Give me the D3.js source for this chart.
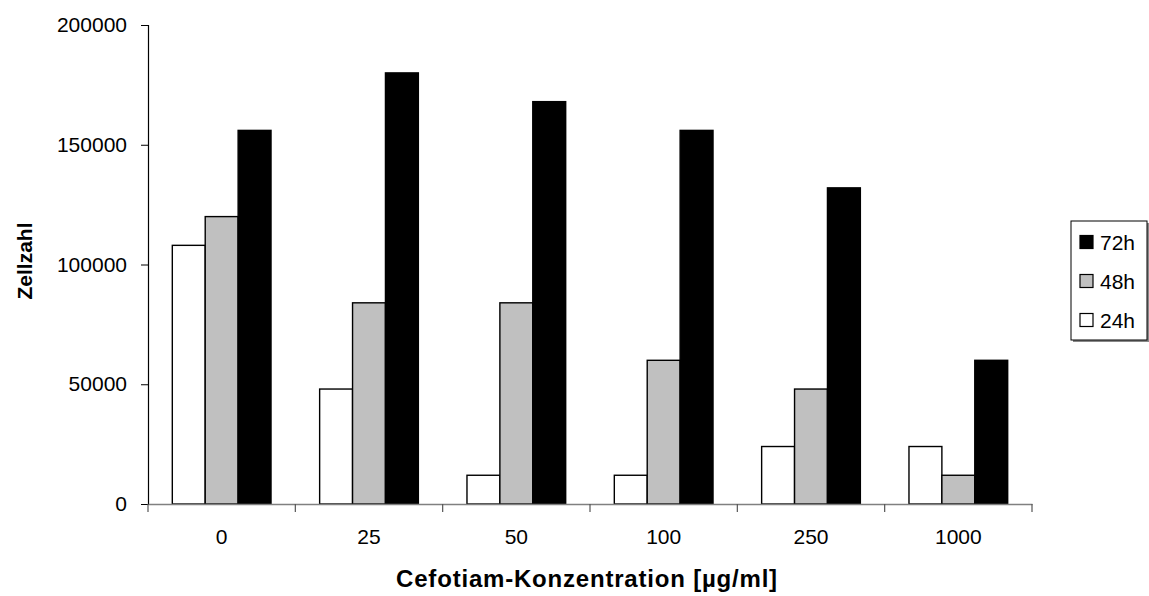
<!DOCTYPE html>
<html>
<head>
<meta charset="utf-8">
<script src="https://cdn.jsdelivr.net/npm/d3@7"></script>
<style>
  html, body { margin: 0; padding: 0; background: #fff; }
  svg { display: block; font-family: "Liberation Sans", Arial, sans-serif; }
</style>
</head>
<body>
<svg id="chart" width="1149" height="596"></svg>
<script>
// Concentrations (x categories)
const concentrations = ["0", "25", "50", "100", "250", "1000"];
// Cell counts per incubation time
const series24h = [108000, 48000, 12000, 12000, 24000, 24000];
const series48h = [120000, 84000, 84000, 60000, 48000, 12000];
const series72h = [156000, 180000, 168000, 156000, 132000, 60000];
const seriesNames = ["24h", "48h", "72h"];
const seriesFill = { "24h": "#ffffff", "48h": "#c0c0c0", "72h": "#000000" };
const yTicks = [0, 50000, 100000, 150000, 200000];

const seriesData = { "24h": series24h, "48h": series48h, "72h": series72h };

const svg = d3.select("#chart");
const plotLeft = 148, plotRight = 1032, plotTop = 25, plotBottom = 504;

const x = d3.scaleBand().domain(concentrations).range([plotLeft, plotRight]).paddingInner(0).paddingOuter(0);
const groupPad = 0.165;
const xInner = d3.scaleBand().domain(seriesNames)
  .range([x.bandwidth() * groupPad, x.bandwidth() * (1 - groupPad)]).padding(0);
const y = d3.scaleLinear().domain([0, 200000]).range([plotBottom, plotTop]);

// bars
const groups = svg.append("g").selectAll("g").data(concentrations).join("g")
  .attr("transform", d => `translate(${x(d)},0)`);
groups.selectAll("rect")
  .data((d, i) => seriesNames.map(s => ({ s, v: seriesData[s][i] })))
  .join("rect")
  .attr("x", d => xInner(d.s))
  .attr("y", d => y(d.v))
  .attr("width", xInner.bandwidth())
  .attr("height", d => plotBottom - y(d.v))
  .attr("fill", d => seriesFill[d.s])
  .attr("stroke", "#000")
  .attr("stroke-width", 1.4);

// y axis
const yAxis = svg.append("g").attr("transform", `translate(${plotLeft},0)`)
  .call(d3.axisLeft(y).tickValues(yTicks).tickSize(7).tickPadding(14).tickFormat(d3.format("d")));
yAxis.select(".domain").attr("stroke", "#000").attr("stroke-width", 1.2);
yAxis.selectAll(".tick line").attr("stroke", "#000");
yAxis.selectAll("text").attr("fill", "#000")
  .attr("font-family", "'Liberation Sans', Arial, sans-serif").attr("font-size", 21);

// x axis
const xAxis = svg.append("g").attr("transform", `translate(0,${plotBottom})`)
  .call(d3.axisBottom(x).tickSize(0).tickPadding(25));
xAxis.select(".domain").attr("stroke", "#808080").attr("stroke-width", 1.5);
xAxis.selectAll("text").attr("font-family", "'Liberation Sans', Arial, sans-serif").attr("font-size", 21).attr("fill", "#000");
// category separators
const bounds = concentrations.map(c => x(c)).concat([plotRight]);
svg.append("g").selectAll("line").data(bounds).join("line")
  .attr("x1", d => d).attr("x2", d => d)
  .attr("y1", plotBottom).attr("y2", plotBottom + 8)
  .attr("stroke", "#555").attr("stroke-width", 1.2);

// axis titles
svg.append("text")
  .attr("transform", `translate(32,261) rotate(-90)`)
  .attr("text-anchor", "middle")
  .attr("font-weight", "bold").attr("font-size", 21)
  .text("Zellzahl");
svg.append("text")
  .attr("x", 587).attr("y", 587)
  .attr("text-anchor", "middle")
  .attr("font-weight", "bold").attr("font-size", 24)
  .attr("letter-spacing", 0.8)
  .text("Cefotiam-Konzentration [µg/ml]");

// legend
const lg = svg.append("g");
lg.append("rect").attr("x", 1073).attr("y", 223).attr("width", 76).attr("height", 119).attr("fill", "#888");
lg.append("rect").attr("x", 1071).attr("y", 221).attr("width", 76).attr("height", 119)
  .attr("fill", "#fff").attr("stroke", "#000").attr("stroke-width", 1);
const legendOrder = ["72h", "48h", "24h"];
const ly = d3.scalePoint().domain(legendOrder).range([242, 320]);
const items = lg.selectAll("g.item").data(legendOrder).join("g").attr("class", "item")
  .attr("transform", d => `translate(1080,${ly(d)})`);
items.append("rect").attr("x", 0).attr("y", -6.5).attr("width", 13).attr("height", 13)
  .attr("fill", d => seriesFill[d]).attr("stroke", "#000").attr("stroke-width", 1.2);
items.append("text").attr("x", 20).attr("y", 0).attr("dy", "0.36em")
  .attr("font-size", 21).text(d => d);
</script>
</body>
</html>
